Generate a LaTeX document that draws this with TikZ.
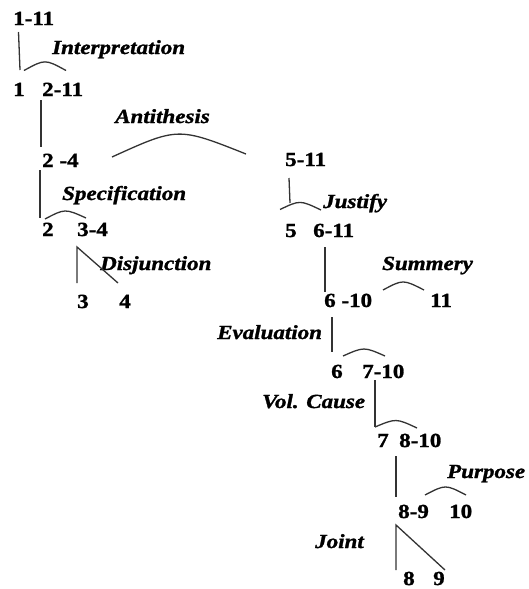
\documentclass[tikz,border=0pt]{standalone}
\usepackage{fontspec}
\setmainfont{Liberation Serif}[
  FakeStretch=1.15,
  BoldFeatures={FakeBold=1.3},
  BoldItalicFeatures={FakeBold=1.3}]
\begin{document}
\begin{tikzpicture}[x=1pt,y=-1pt,
  num/.style={anchor=base west, inner sep=0pt, font=\fontsize{20}{24}\selectfont\bfseries},
  rel/.style={anchor=base west, inner sep=0pt, font=\fontsize{20}{24}\selectfont\bfseries\itshape},
  conn/.style={line width=1.3pt, draw=black!80}]
\useasboundingbox (0,0) rectangle (528,589);
% span labels
\node[num] (n111) at (13,25) {1-11};
\node[num] (n1) at (13,96) {1};
\node[num] (n211) at (42,96) {2-11};
\node[num] (n24) at (42,167) {2 -4};
\node[num] (n2) at (42,236) {2};
\node[num] (n34) at (77,236) {3-4};
\node[num] (n3) at (77,308) {3};
\node[num] (n4) at (119,308) {4};
\node[num] (n511) at (285,166) {5-11};
\node[num] (n5) at (285,237) {5};
\node[num] (n611) at (313,237) {6-11};
\node[num] (n610) at (324,307) {6 -10};
\node[num] (n11) at (430,307) {11};
\node[num] (n6) at (331,378) {6};
\node[num] (n710) at (362,378) {7-10};
\node[num] (n7) at (377,447) {7};
\node[num] (n810) at (399,447) {8-10};
\node[num] (n89) at (398,518) {8-9};
\node[num] (n10) at (449,518) {10};
\node[num] (n8) at (403,585) {8};
\node[num] (n9) at (433,585) {9};
% relation labels
\node[rel] (interp) at (52,54) {Interpretation};
\node[rel] (anti) at (115,123) {Antithesis};
\node[rel] (spec) at (62,200) {Specification};
\node[rel] (disj) at (100,270) {Disjunction};
\node[rel] (just) at (323,208) {Justify};
\node[rel] (summ) at (382,270) {Summery};
\node[rel] (eval) at (217,339) {Evaluation};
\node[rel] (vol) at (262,408) {Vol. Cause};
\node[rel] (purp) at (447,478) {Purpose};
\node[rel] (joint) at (315,548) {Joint};
% connector points
\coordinate (c1a) at (18.5,32); \coordinate (c1b) at (20,70);
\coordinate (a1s) at (24,70.5); \coordinate (a1e) at (66,70.5); \coordinate (a1c) at (45,59);
\coordinate (c2a) at (41,100); \coordinate (c2b) at (41,147);
\coordinate (a2s) at (112,157); \coordinate (a2e) at (246,154); \coordinate (a2c) at (178,127);
\coordinate (c3a) at (40,170); \coordinate (c3b) at (40,218);
\coordinate (a3s) at (45,219); \coordinate (a3e) at (86,218); \coordinate (a3c) at (65,208.5);
\coordinate (d1a) at (77,247); \coordinate (d1b) at (77,283); \coordinate (d1c) at (118,283);
\coordinate (c5a) at (289,178); \coordinate (c5b) at (290,203);
\coordinate (a5s) at (280,209.5); \coordinate (a5e) at (321,210); \coordinate (a5c) at (300,200);
\coordinate (c6a) at (325,247); \coordinate (c6b) at (325,292);
\coordinate (a6s) at (383,290); \coordinate (a6e) at (424,290); \coordinate (a6c) at (403,279.3);
\coordinate (c7a) at (332,317); \coordinate (c7b) at (332,352);
\coordinate (a7s) at (343,356); \coordinate (a7e) at (385,356); \coordinate (a7c) at (364,346.7);
\coordinate (c8a) at (375,380); \coordinate (c8b) at (375,427);
\coordinate (a8s) at (375,427); \coordinate (a8e) at (417,428); \coordinate (a8c) at (396,418.2);
\coordinate (c9a) at (396,456); \coordinate (c9b) at (396,497);
\coordinate (a9s) at (425,495); \coordinate (a9e) at (466,495); \coordinate (a9c) at (445.5,484.3);
\coordinate (j1a) at (396,525); \coordinate (j1b) at (396,570); \coordinate (j1c) at (445,570);
% connectors
\draw[conn] (c1a) -- (c1b);
\draw[conn] (a1s) .. controls (a1c) .. (a1e);
\draw[conn] (c2a) -- (c2b);
\draw[conn] (a2s) .. controls (a2c) .. (a2e);
\draw[conn] (c3a) -- (c3b);
\draw[conn] (a3s) .. controls (a3c) .. (a3e);
\draw[conn] (d1b) -- (d1a) -- (d1c);
\draw[conn] (c5a) -- (c5b);
\draw[conn] (a5s) .. controls (a5c) .. (a5e);
\draw[conn] (c6a) -- (c6b);
\draw[conn] (a6s) .. controls (a6c) .. (a6e);
\draw[conn] (c7a) -- (c7b);
\draw[conn] (a7s) .. controls (a7c) .. (a7e);
\draw[conn] (c8a) -- (c8b);
\draw[conn] (a8s) .. controls (a8c) .. (a8e);
\draw[conn] (c9a) -- (c9b);
\draw[conn] (a9s) .. controls (a9c) .. (a9e);
\draw[conn] (j1b) -- (j1a) -- (j1c);
\end{tikzpicture}
\end{document}
